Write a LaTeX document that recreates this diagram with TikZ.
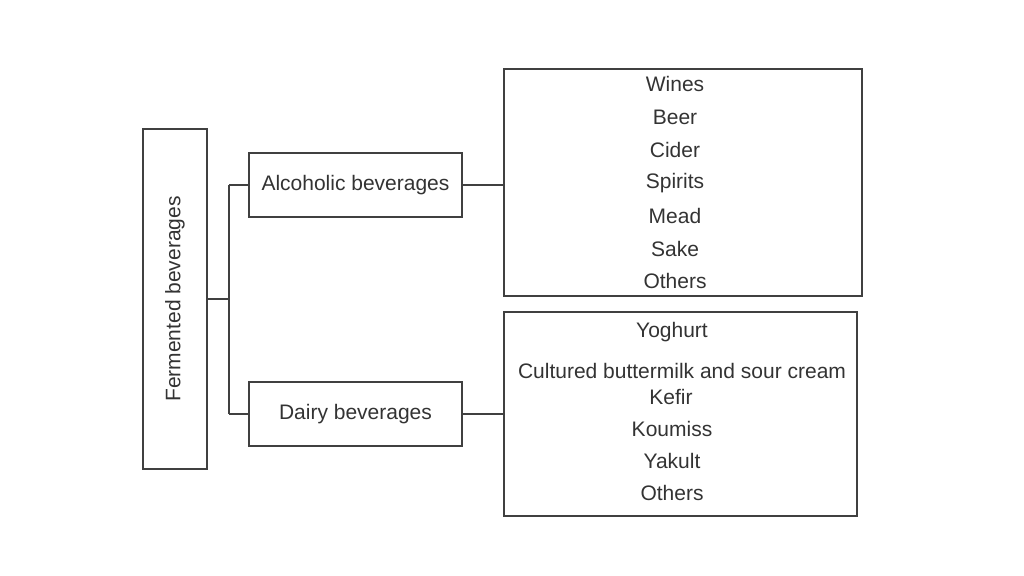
\documentclass[tikz,border=0pt]{standalone}
\usepackage{fontspec}
\setmainfont{Liberation Sans}
\begin{document}
\begin{tikzpicture}[x=1pt,y=-1pt,
  box/.style={draw=black!75,line width=1.2pt},
  ln/.style={draw=black!75,line width=1.2pt},
  t/.style={font=\fontsize{21}{24}\selectfont,text=black!80,inner sep=0pt}]
\useasboundingbox (0,0) rectangle (1024,575);
\draw[box] (143,129) rectangle (207,469);
\node[t,rotate=90] (f) at (175,299) {Fermented beverages};
\draw[box] (249,153) rectangle (462,217);
\node[t] (a) at (355.5,185) {Alcoholic beverages};
\draw[box] (249,382) rectangle (462,446);
\node[t] (d) at (355.5,414) {Dairy beverages};
\draw[box] (504,69) rectangle (862,296);
\draw[box] (504,312) rectangle (857,516);
\coordinate (fr) at (207,299);
\coordinate (j) at (229,299);
\draw[ln] (fr) -- (j);
\draw[ln] (229,185) -- (229,414);
\draw[ln] (229,185) -- (249,185);
\draw[ln] (229,414) -- (249,414);
\draw[ln] (462,185) -- (504,185);
\draw[ln] (462,414) -- (504,414);
\foreach \s/\y [count=\i] in {Wines/84,Beer/117,Cider/150,Spirits/183,Mead/216,Sake/249,Others/281}
  \node[t] (l\i) at (675,\y) {\s};
\node[t] (m1) at (672,332) {Yoghurt};
\node[t] (m2) at (682,371) {Cultured buttermilk and sour cream};
\node[t] (m3) at (671,397) {Kefir};
\node[t] (m4) at (672,429) {Koumiss};
\node[t] (m5) at (672,461) {Yakult};
\node[t] (m6) at (672,493) {Others};
\end{tikzpicture}
\end{document}
